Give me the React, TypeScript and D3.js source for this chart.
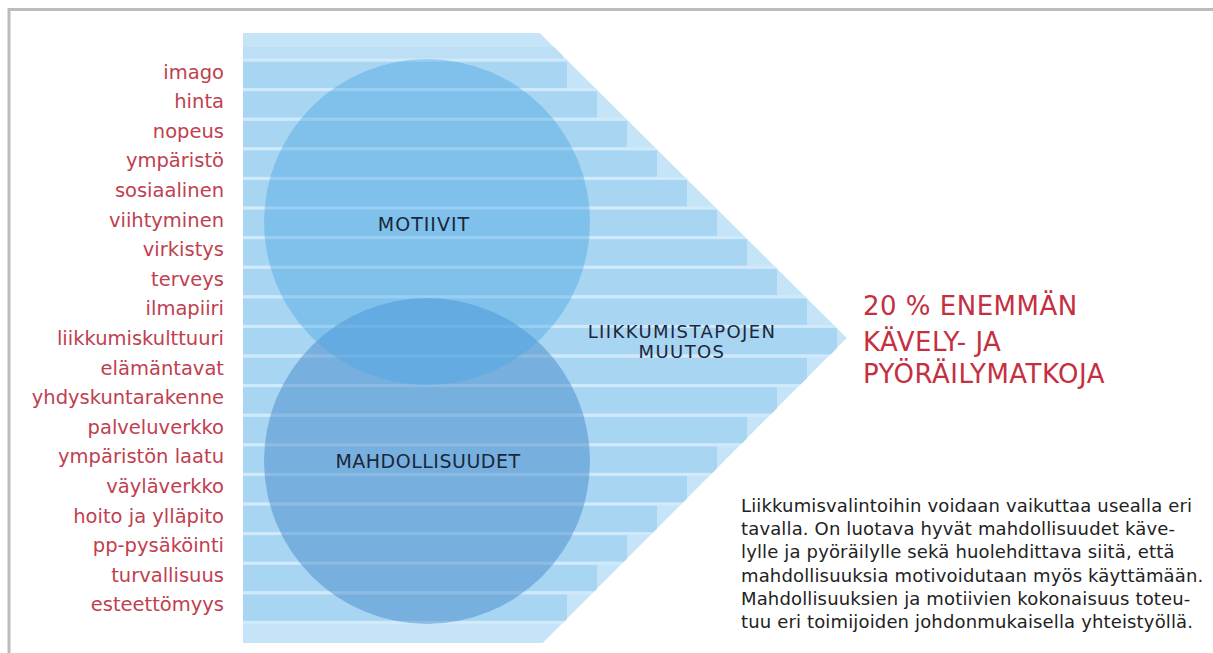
import React from "react";
import * as d3 from "d3";

const factors = [
  "imago", "hinta", "nopeus", "ympäristö", "sosiaalinen", "viihtyminen", "virkistys",
  "terveys", "ilmapiiri", "liikkumiskulttuuri", "elämäntavat", "yhdyskuntarakenne",
  "palveluverkko", "ympäristön laatu", "väyläverkko", "hoito ja ylläpito",
  "pp-pysäköinti", "turvallisuus", "esteettömyys",
];
// stair-step reach of each row's band
const reach = [1, 2, 3, 4, 5, 6, 7, 8, 9, 10, 9, 8, 7, 6, 5, 4, 3, 2, 1];
const circleLabels = ["MOTIIVIT", "MAHDOLLISUUDET"];
const centerLines = ["LIIKKUMISTAPOJEN", "MUUTOS"];
const headlineLines = ["20 % ENEMMÄN", "KÄVELY- JA", "PYÖRÄILYMATKOJA"];
const paragraphLines = [
  "Liikkumisvalintoihin voidaan vaikuttaa usealla eri",
  "tavalla. On luotava hyvät mahdollisuudet käve-",
  "lylle ja pyöräilylle sekä huolehdittava siitä, että",
  "mahdollisuuksia motivoidutaan myös käyttämään.",
  "Mahdollisuuksien ja motiivien kokonaisuus toteu-",
  "tuu eri toimijoiden johdonmukaisella yhteistyöllä.",
];

const W = 1213;
const H = 653;

export default function App() {
  const rowTop = 60;
  const rowH = 29.6;
  const y = d3.scaleBand<string>().domain(factors).range([rowTop, rowTop + rowH * factors.length]).padding(0);
  const x = d3.scaleLinear().domain([1, 10]).range([567, 837]);
  const left = 243;
  const top = 33;
  const bottom = 643;
  const tipX = 847;
  const tipY = 338;
  const pent = d3.line()([
    [left, top], [540, top], [tipX, tipY], [543, bottom], [left, bottom],
  ]) + "Z";
  const bw = y.bandwidth();
  const font = "'DejaVu Sans', Verdana, sans-serif";

  return (
    <div style={{ position: "absolute", left: 0, top: 0 }}>
      <svg width={W} height={H} style={{ display: "block", background: "#fff" }}>
        <defs>
          <clipPath id="pent">
            <path d={pent} />
          </clipPath>
        </defs>
        {/* frame */}
        <rect x={8} y={8} width={W - 8} height={3} fill="#bcbcbc" />
        <rect x={7.5} y={8} width={3} height={H - 8} fill="#bcbcbc" />

        <g clipPath="url(#pent)">
          <path d={pent} fill="#c6e4f8" />
          <rect x={left} y={top + 14} width={320} height={13} fill="#bddff6" />
          {factors.map((f, i) => (
            <rect key={f} x={left} y={y(f)! + 1.5} width={x(reach[i]) - left} height={bw - 3} fill="#a8d5f2" />
          ))}
          {factors.map((f) => (
            <rect key={"s" + f} x={left} y={y(f)! - 1.5} width={tipX - left} height={3} fill="#d0eafb" />
          ))}
          <rect x={left} y={rowTop + rowH * factors.length - 1.5} width={tipX - left} height={3} fill="#d0eafb" />
          <circle cx={427} cy={461} r={163} fill="rgb(60,130,200)" fillOpacity={0.46} />
          <circle cx={427} cy={222} r={163} fill="rgb(70,165,225)" fillOpacity={0.41} />
        </g>

        {factors.map((f) => (
          <text key={"l" + f} x={224} y={y(f)! + 18.5} textAnchor="end" fontFamily={font} fontSize={19.5} fill="#c0404f">
            {f}
          </text>
        ))}

        <text x={424} y={231} textAnchor="middle" fontFamily={font} fontSize={19} letterSpacing={1} fill="#1b273a">{circleLabels[0]}</text>
        <text x={428} y={468} textAnchor="middle" fontFamily={font} fontSize={19} letterSpacing={0.5} fill="#1b273a">{circleLabels[1]}</text>
        {centerLines.map((t, i) => (
          <text key={t} x={682} y={338 + i * 20} textAnchor="middle" fontFamily={font} fontSize={18} letterSpacing={1.4} fill="#1b273a">{t}</text>
        ))}

        {headlineLines.map((t, i) => (
          <text key={t} x={863} y={[315, 351, 383][i]} fontFamily={font} fontSize={26} letterSpacing={0.5} fontWeight={500} fill="#c4303f">{t}</text>
        ))}

        {paragraphLines.map((t, i) => (
          <text key={t} x={741} y={512 + i * 23.2} fontFamily={font} fontSize={18} letterSpacing={0.15} fill="#222">{t}</text>
        ))}
      </svg>
    </div>
  );
}
